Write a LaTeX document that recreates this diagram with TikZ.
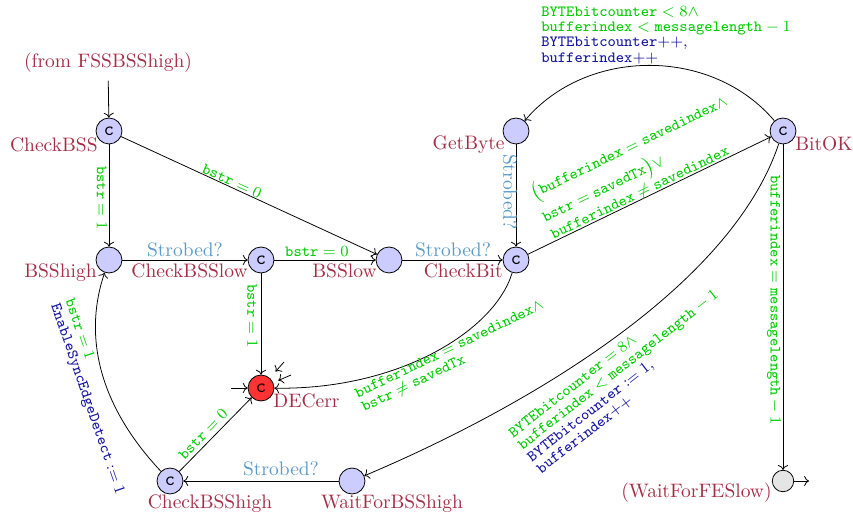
\documentclass[tikz,border=0pt]{standalone}
\usetikzlibrary{arrows.meta}
\definecolor{locname}{RGB}{165,45,70}
\definecolor{grd}{RGB}{0,204,0}
\definecolor{asg}{RGB}{20,20,160}
\definecolor{syn}{RGB}{90,155,200}
\begin{document}
\begin{tikzpicture}[x=0.513pt,y=-0.513pt,
  loc/.style={circle,draw,fill=blue!20,minimum size=13.3pt,inner sep=0pt,font=\ttfamily},
  errloc/.style={loc,fill=red!80},
  endloc/.style={circle,draw,fill=gray!20,minimum size=11pt,inner sep=0pt},
  lname/.style={text=locname,inner sep=0pt},
  grdl/.style={text=grd,font={\fontsize{8.3pt}{9.8pt}\selectfont},inner sep=0pt,align=left},
  syncl/.style={text=syn,inner sep=0pt},
  tr/.style={->}]
\useasboundingbox (0,0) rectangle (853,512);
% locations
\node[lname,anchor=base] (fromtxt) at (108,67.5) {(from FSSBSShigh)};
\node[loc] (CheckBSS) at (109,131) {c};
\node[loc] (BSShigh) at (109,260) {};
\node[loc] (CheckBSSlow) at (261,260) {c};
\node[loc] (BSSlow) at (389,260) {};
\node[loc] (CheckBit) at (516,260) {c};
\node[loc] (GetByte) at (516,131) {};
\node[loc] (BitOK) at (783,131) {c};
\node[errloc] (DECerr) at (261,388) {c};
\node[loc] (CheckBSShigh) at (170,481) {c};
\node[loc] (WaitForBSShigh) at (352,481) {};
\node[endloc] (WaitForFESlow) at (783,481) {};
% names
\node[lname,anchor=base east] (nCheckBSS) at (98,152) {CheckBSS};
\node[lname,anchor=base east] (nBSShigh) at (97,278) {BSShigh};
\node[lname,anchor=base east] (nCheckBSSlow) at (248,278) {CheckBSSlow};
\node[lname,anchor=base east] (nBSSlow) at (377,278) {BSSlow};
\node[lname,anchor=base east] (nCheckBit) at (503,278) {CheckBit};
\node[lname,anchor=base east] (nGetByte) at (505,150) {GetByte};
\node[lname,anchor=base west] (nBitOK) at (795,151) {BitOK};
\node[lname,anchor=base west] (nDECerr) at (273,407) {DECerr};
\node[lname,anchor=base] (nCheckBSShigh) at (210,508) {CheckBSShigh};
\node[lname,anchor=base] (nWaitForBSShigh) at (392,508) {WaitForBSShigh};
\node[lname,anchor=base east] (nWaitForFESlow) at (772,497) {(WaitForFESlow)};
% free ends
\coordinate (s1) at (231,388);
\coordinate (s2) at (284,362);
\coordinate (s3) at (291,375);
\coordinate (wout) at (809,481);
% transitions
\draw[tr,shorten <=4pt] (fromtxt) -- (CheckBSS);
\draw[tr] (CheckBSS) -- (BSShigh);
\draw[tr] (CheckBSS) -- (BSSlow);
\draw[tr] (BSShigh) -- (CheckBSSlow);
\draw[tr] (CheckBSSlow) -- (BSSlow);
\draw[tr] (CheckBSSlow) -- (DECerr);
\draw[tr] (BSSlow) -- (CheckBit);
\draw[tr] (GetByte) -- (CheckBit);
\draw[tr] (CheckBit) -- (BitOK);
\draw[tr] (BitOK) .. controls +(-71,-84) and +(71,-84) .. (GetByte);
\draw[tr] (BitOK) -- (WaitForFESlow);
\draw[tr] (BitOK) .. controls +(-53,159) and +(168,-71) .. (WaitForBSShigh);
\draw[tr] (CheckBit) .. controls +(-21,70) and +(139,2) .. (DECerr);
\draw[tr] (WaitForBSShigh) -- (CheckBSShigh);
\draw[tr] (CheckBSShigh) -- (DECerr);
\draw[tr] (CheckBSShigh) .. controls +(-76,-81) and +(-24,70) .. (BSShigh);
\draw[tr] (s1) -- (DECerr);
\draw[tr,shorten >=4.4pt] (s2) -- (DECerr);
\draw[tr,shorten >=2.8pt] (s3) -- (DECerr);
\draw[tr] (WaitForFESlow) -- (wout);
% labels
\node[grdl,rotate=-90] (g1) at (102,198) {$\mathtt{bstr}=1$};
\node[grdl,rotate=-24.7] (g2) at (232,181) {$\mathtt{bstr}=0$};
\node[syncl,anchor=base] (y1) at (185,257) {Strobed?};
\node[grdl,anchor=base] (g3) at (317,257) {$\mathtt{bstr}=0$};
\node[grdl,rotate=-90] (g4) at (252.5,316) {$\mathtt{bstr}=1$};
\node[syncl,anchor=base] (y2) at (453,257) {Strobed?};
\node[syncl,rotate=-90] (y3) at (510,192) {Strobed?};
\node[syncl,anchor=base] (y4) at (281,475) {Strobed?};
\node[grdl,rotate=-90] (g5) at (774,300) {$\mathtt{bufferindex}=\mathtt{messagelength}-1$};
\node[grdl,rotate=46] (g6) at (203,434) {$\mathtt{bstr}=0$};
\node[grdl,rotate=-71] (g7) at (94,397) {$\mathtt{bstr}=1$\\[-2pt]
  \textcolor{asg}{$\mathtt{EnableSyncEdgeDetect}:=1$}};
\node[grdl,rotate=25.8] (g8) at (453,357) {$\mathtt{bufferindex}=\mathtt{savedindex}\wedge$\\[-2pt]
  $\mathtt{bstr}\neq\mathtt{savedTx}$};
\node[grdl,rotate=38] (g9) at (623,376) {$\mathtt{BYTEbitcounter}=8\wedge$\\[-2pt]
  $\mathtt{bufferindex}<\mathtt{messagelength}-1$\\[-2pt]
  \textcolor{asg}{$\mathtt{BYTEbitcounter}:=1,$}\\[-2pt]
  \textcolor{asg}{$\mathtt{bufferindex}{+}{+}$}};
\node[grdl,rotate=25.8] (g10) at (638,166) {$\bigl(\mathtt{bufferindex}=\mathtt{savedindex}\wedge$\\
  $\mathtt{bstr}=\mathtt{savedTx}\bigr)\vee$\\
  $\mathtt{bufferindex}\neq\mathtt{savedindex}$};
\node[grdl,anchor=west] (g11) at (541,35) {$\mathtt{BYTEbitcounter}<8\wedge$\\[-2pt]
  $\mathtt{bufferindex}<\mathtt{messagelength}-1$\\[-2pt]
  \textcolor{asg}{$\mathtt{BYTEbitcounter}{+}{+},$}\\[-2pt]
  \textcolor{asg}{$\mathtt{bufferindex}{+}{+}$}};
\end{tikzpicture}
\end{document}
